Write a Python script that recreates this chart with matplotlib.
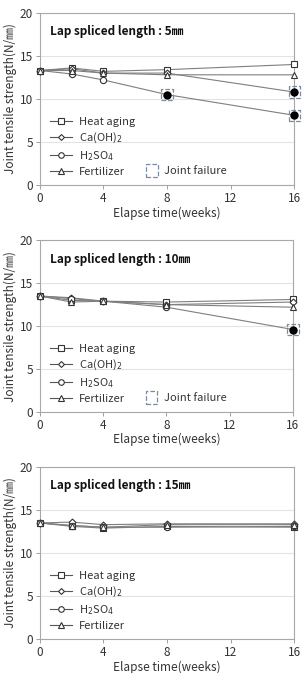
import matplotlib
matplotlib.use("Agg")
import matplotlib.pyplot as plt
from matplotlib.lines import Line2D
import matplotlib.patches as mpatches

plt.rcParams['font.family'] = ['Noto Sans CJK KR', 'DejaVu Sans']

weeks = [0, 2, 4, 8, 16]
series_names = ['Heat aging', 'Ca(OH)$_2$', 'H$_2$SO$_4$', 'Fertilizer']
markers = ['s', 'D', 'o', '^']
msizes = [4.5, 3.5, 4.5, 4.5]

titles = ['Lap spliced length : 5㎜', 'Lap spliced length : 10㎜', 'Lap spliced length : 15㎜']

# panel 1 (5mm)
heat_5 = [13.3, 13.6, 13.2, 13.4, 14.0]
caoh_5 = [13.3, 13.5, 13.0, 13.0, 10.8]
h2so4_5 = [13.3, 12.9, 12.2, 10.5, 8.1]
fert_5 = [13.3, 13.3, 13.0, 12.8, 12.8]
# panel 2 (10mm)
heat_10 = [13.5, 13.0, 12.9, 12.8, 13.1]
caoh_10 = [13.5, 13.3, 12.9, 12.5, 12.8]
h2so4_10 = [13.5, 13.2, 12.9, 12.2, 9.6]
fert_10 = [13.5, 12.8, 12.9, 12.5, 12.2]
# panel 3 (15mm)
heat_15 = [13.5, 13.1, 12.9, 13.1, 13.0]
caoh_15 = [13.5, 13.6, 13.3, 13.4, 13.4]
h2so4_15 = [13.5, 13.2, 13.0, 13.0, 13.1]
fert_15 = [13.5, 13.2, 13.0, 13.3, 13.3]

# joint failure points (week, value)
fail_5 = [(8, 10.5), (16, 10.8), (16, 8.1)]
fail_10 = [(16, 9.6)]
fail_15 = []

panels = [
    ([heat_5, caoh_5, h2so4_5, fert_5], fail_5),
    ([heat_10, caoh_10, h2so4_10, fert_10], fail_10),
    ([heat_15, caoh_15, h2so4_15, fert_15], fail_15),
]

fig = plt.figure(figsize=(3.02, 6.73), dpi=100)
# axes location [left, bottom, width, height]
rects = [[0.132, 0.725, 0.842, 0.256],
         [0.132, 0.388, 0.838, 0.255],
         [0.132, 0.0505, 0.842, 0.2555]]

for (data, fails), title, rect in zip(panels, titles, rects):
    ax = fig.add_axes(rect)
    handles = []
    for vals, name, m, ms in zip(data, series_names, markers, msizes):
        ax.plot(weeks, vals, color='#7f7f7f', lw=0.8, zorder=2, clip_on=False)
        ax.plot(weeks, vals, linestyle='none', marker=m, ms=ms, mfc='white',
                mec='#333333', mew=0.8, zorder=3, clip_on=False)
        handles.append(Line2D([], [], color='#555555', lw=0.8, marker=m, ms=ms - 0.5,
                              mfc='white', mec='#333333', mew=0.8, label=name))
    for fx, fy in fails:
        ax.plot(fx, fy, 'o', ms=5, color='black', zorder=4, clip_on=False)
        ax.scatter(fx, fy, marker='s', s=65, facecolors='none', edgecolors='#7a8aa0',
                   linestyle='--', linewidths=0.9, zorder=5, clip_on=False)
    ax.set_xlim(0, 16)
    ax.set_ylim(0, 20)
    ax.set_xticks([0, 4, 8, 12, 16])
    ax.set_yticks([0, 5, 10, 15, 20])
    ax.grid(axis='y', color='#e3e3e3', lw=0.8)
    ax.set_axisbelow(True)
    for sp in ax.spines.values():
        sp.set_color('#a8a8a8')
        sp.set_linewidth(0.8)
    ax.tick_params(labelsize=8.5, colors='#333333', length=3, width=0.7, pad=2)
    ax.tick_params(color='#a0a0a0')
    ax.set_xlabel('Elapse time(weeks)', fontsize=8.5, color='#333333', labelpad=1)
    ax.set_ylabel('Joint tensile strength(N/㎜)', fontsize=8.5, color='#333333', labelpad=2)
    ax.text(0.04, 0.87, title, transform=ax.transAxes, fontsize=8.5, fontweight='bold',
            color='#111111')
    leg = ax.legend(handles=handles, loc='lower left', bbox_to_anchor=(0.0, -0.01),
                    frameon=False, fontsize=8, handlelength=2.0, handletextpad=0.6,
                    labelspacing=0.35, labelcolor='#333333')
    if fails:
        ax.add_artist(leg)
        fh = mpatches.Patch(facecolor='none', edgecolor='#7a8aa0', linestyle='--',
                            linewidth=0.9, label='Joint failure')
        ax.legend(handles=[fh], loc='lower left', bbox_to_anchor=(0.38, -0.01),
                  frameon=False, fontsize=8, handlelength=1.0, handleheight=1.4,
                  handletextpad=0.6, labelcolor='#333333')

fig.savefig('out.png', dpi=100)
